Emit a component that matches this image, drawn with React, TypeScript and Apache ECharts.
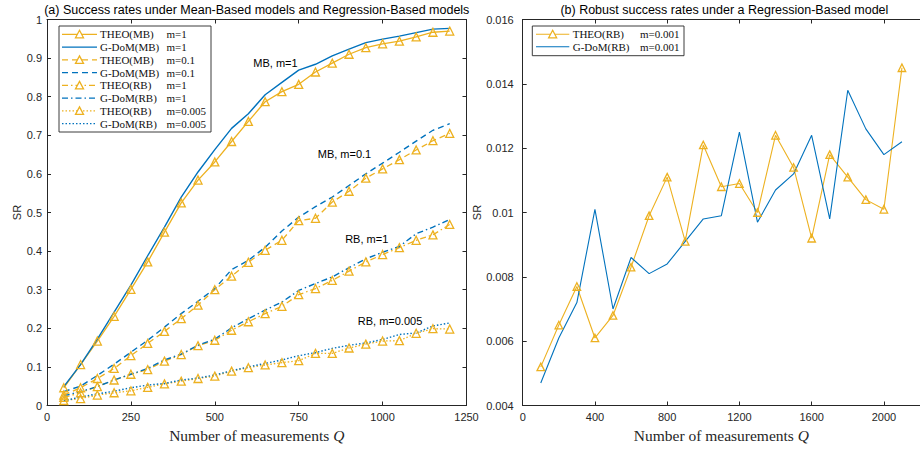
import React, { useEffect, useRef } from "react";
import * as echarts from "echarts";

// ---------- data ----------
const Q_LEFT = [50, 100, 150, 200, 250, 300, 350, 400, 450, 500, 550, 600, 650, 700, 750, 800, 850, 900, 950, 1000, 1050, 1100, 1150, 1200];
const THEO_MB_1 = [0.046, 0.106, 0.167, 0.231, 0.301, 0.372, 0.449, 0.525, 0.584, 0.631, 0.684, 0.736, 0.787, 0.813, 0.832, 0.864, 0.887, 0.91, 0.927, 0.937, 0.944, 0.955, 0.967, 0.97];
const GDOM_MB_1 = [0.049, 0.106, 0.172, 0.242, 0.312, 0.388, 0.462, 0.54, 0.605, 0.663, 0.718, 0.756, 0.805, 0.837, 0.869, 0.884, 0.906, 0.923, 0.94, 0.949, 0.957, 0.966, 0.975, 0.977];
const THEO_MB_01 = [0.027, 0.046, 0.07, 0.096, 0.129, 0.161, 0.192, 0.225, 0.26, 0.3, 0.335, 0.371, 0.402, 0.428, 0.479, 0.485, 0.527, 0.555, 0.589, 0.613, 0.637, 0.662, 0.686, 0.705];
const GDOM_MB_01 = [0.036, 0.05, 0.078, 0.107, 0.138, 0.169, 0.203, 0.238, 0.27, 0.303, 0.352, 0.376, 0.41, 0.452, 0.488, 0.515, 0.54, 0.57, 0.6, 0.628, 0.656, 0.685, 0.713, 0.73];
const THEO_RB_1 = [0.021, 0.033, 0.049, 0.066, 0.081, 0.093, 0.115, 0.132, 0.155, 0.169, 0.195, 0.217, 0.238, 0.257, 0.287, 0.303, 0.324, 0.348, 0.372, 0.391, 0.409, 0.428, 0.442, 0.469];
const GDOM_RB_1 = [0.025, 0.036, 0.049, 0.066, 0.081, 0.096, 0.118, 0.133, 0.156, 0.172, 0.201, 0.225, 0.247, 0.268, 0.298, 0.316, 0.333, 0.357, 0.38, 0.397, 0.412, 0.445, 0.462, 0.482];
const THEO_RB_0005 = [0.013, 0.018, 0.027, 0.033, 0.038, 0.047, 0.056, 0.063, 0.07, 0.076, 0.089, 0.098, 0.105, 0.111, 0.116, 0.135, 0.135, 0.149, 0.159, 0.167, 0.168, 0.187, 0.199, 0.198];
const GDOM_RB_0005 = [0.012, 0.022, 0.03, 0.037, 0.046, 0.053, 0.057, 0.066, 0.071, 0.079, 0.09, 0.1, 0.109, 0.118, 0.129, 0.137, 0.148, 0.156, 0.162, 0.171, 0.184, 0.188, 0.206, 0.214];

const Q_RIGHT = [100, 200, 300, 400, 500, 600, 700, 800, 900, 1000, 1100, 1200, 1300, 1400, 1500, 1600, 1700, 1800, 1900, 2000, 2100];
const THEO_RB_0001 = [0.0052, 0.0065, 0.0077, 0.0061, 0.0068, 0.0083, 0.0099, 0.0111, 0.0091, 0.0121, 0.0108, 0.0109, 0.01, 0.0124, 0.0114, 0.0092, 0.0118, 0.0111, 0.0104, 0.0101, 0.0145];
const GDOM_RB_0001 = [0.0047, 0.0061, 0.0072, 0.0101, 0.007, 0.0086, 0.0081, 0.0084, 0.0091, 0.0098, 0.0099, 0.0125, 0.0097, 0.0107, 0.0112, 0.0124, 0.0098, 0.0138, 0.0126, 0.0118, 0.0122];

const TITLE_LEFT = "(a) Success rates under Mean-Based models and Regression-Based models";
const TITLE_RIGHT = "(b) Robust success rates under a Regression-Based model";
const X_NAME = "Number of measurements ";
const Y_NAME = "SR";

const LEGEND_LEFT_NAMES = ["THEO(MB)", "G-DoM(MB)", "THEO(MB)", "G-DoM(MB)", "THEO(RB)", "G-DoM(RB)", "THEO(RB)", "G-DoM(RB)"];
const LEGEND_LEFT_M = ["m=1", "m=1", "m=0.1", "m=0.1", "m=1", "m=1", "m=0.005", "m=0.005"];
const LEGEND_RIGHT_NAMES = ["THEO(RB)", "G-DoM(RB)"];
const LEGEND_RIGHT_M = ["m=0.001", "m=0.001"];

const ANNOTATIONS = ["MB, m=1", "MB, m=0.1", "RB, m=1", "RB, m=0.005"];

// ---------- styles ----------
const ORANGE = "#EDB120";
const BLUE = "#0072BD";
const AX = "#262626";
const SANS = "'Liberation Sans', Arial, Helvetica, sans-serif";
const SERIF = "'Liberation Serif', 'Times New Roman', serif";

const DASH_SOLID: any = "solid";
const DASH_DASHED = [6, 4];
const DASH_DASHDOT = [6, 3, 1.5, 3];
const DASH_DOTTED = [1.5, 2];

const G0 = { left: 47, top: 19.5, width: 419.5, height: 386 };
const G1 = { left: 522.7, top: 19.5, width: 403.3, height: 386 };

function pairs(xs: number[], ys: number[]) {
  return xs.map((x, i) => [x, ys[i]]);
}

function theoSeries(name: string, xs: number[], ys: number[], dash: any, gi: number, lw: number, sz: number) {
  return {
    type: "line",
    name,
    xAxisIndex: gi === 0 ? 0 : 2,
    yAxisIndex: gi === 0 ? 0 : 2,
    data: pairs(xs, ys),
    symbol: "triangle",
    symbolSize: sz,
    showSymbol: true,
    silent: true,
    lineStyle: { color: ORANGE, width: lw, type: dash },
    itemStyle: { color: "rgba(255,255,255,0)", borderColor: ORANGE, borderWidth: 1.3 },
    emphasis: { disabled: true },
  };
}

function gdomSeries(name: string, xs: number[], ys: number[], dash: any, gi: number, lw: number) {
  return {
    type: "line",
    name,
    xAxisIndex: gi === 0 ? 0 : 2,
    yAxisIndex: gi === 0 ? 0 : 2,
    data: pairs(xs, ys),
    symbol: "none",
    showSymbol: false,
    silent: true,
    lineStyle: { color: BLUE, width: lw, type: dash },
    emphasis: { disabled: true },
  };
}

const plain = (v: number) => String(v);

function axisCommon() {
  return {
    type: "value",
    splitLine: { show: false },
    axisLine: { show: true, onZero: false, lineStyle: { color: AX, width: 1 } },
    axisTick: { show: true, inside: true, length: 4, lineStyle: { color: AX, width: 1 } },
    axisLabel: { color: AX, fontSize: 11, fontFamily: SANS, formatter: plain },
  };
}

function legendGraphic(
  x0: number, y0: number, w: number, h: number, rowY0: number, rowStep: number,
  lineX1: number, lineX2: number, textX: number, mX: number,
  names: string[], ms: string[], colors: string[], dashes: any[], theo: boolean[], lw: number
) {
  const children: any[] = [
    { type: "rect", shape: { x: x0, y: y0, width: w, height: h }, style: { fill: "#fff", stroke: AX, lineWidth: 0.9 } },
  ];
  names.forEach((nm, i) => {
    const y = rowY0 + i * rowStep;
    children.push({
      type: "line",
      shape: { x1: lineX1, y1: y, x2: lineX2, y2: y },
      style: { stroke: colors[i], lineWidth: lw, lineDash: dashes[i] === "solid" ? null : dashes[i] },
    });
    if (theo[i]) {
      const cx = (lineX1 + lineX2) / 2;
      children.push({
        type: "polygon",
        shape: { points: [[cx, y - 4], [cx + 4, y + 3.5], [cx - 4, y + 3.5]] },
        style: { fill: "#fff", stroke: ORANGE, lineWidth: 1.3 },
      });
    }
    children.push({
      type: "text", x: textX, y,
      style: { text: nm, fill: "#111", font: `11px ${SERIF}`, textVerticalAlign: "middle", textAlign: "left" },
    });
    children.push({
      type: "text", x: mX, y,
      style: { text: ms[i], fill: "#111", font: `11px ${SERIF}`, textVerticalAlign: "middle", textAlign: "left" },
    });
  });
  return { type: "group", z: 100, children };
}

export default function App() {
  const ref = useRef<HTMLDivElement>(null);
  useEffect(() => {
    if (!ref.current) return;
    const chart = echarts.init(ref.current, undefined, { renderer: "svg" });

    const xName = {
      name: `{n|${X_NAME}}{q|Q}`,
      nameLocation: "middle",
      nameGap: 17,
      nameTextStyle: {
        rich: {
          n: { fontFamily: SERIF, fontSize: 15.5, color: AX },
          q: { fontFamily: SERIF, fontSize: 15.5, fontStyle: "italic", color: AX },
        },
      },
    };

    const option: any = {
      animation: false,
      grid: [
        { ...G0, containLabel: false },
        { ...G1, containLabel: false },
      ],
      xAxis: [
        { ...axisCommon(), gridIndex: 0, position: "bottom", min: 0, max: 1250, interval: 250, ...xName,
          axisLabel: { ...axisCommon().axisLabel, margin: 6 } },
        { ...axisCommon(), gridIndex: 0, position: "top", min: 0, max: 1250, interval: 250,
          axisLabel: { show: false } },
        { ...axisCommon(), gridIndex: 1, position: "bottom", min: 0, max: 2200, interval: 400, ...xName,
          axisLabel: { ...axisCommon().axisLabel, margin: 6, showMaxLabel: false } },
        { ...axisCommon(), gridIndex: 1, position: "top", min: 0, max: 2200, interval: 400,
          axisLabel: { show: false } },
      ],
      yAxis: [
        { ...axisCommon(), gridIndex: 0, position: "left", min: 0, max: 1, interval: 0.1,
          name: Y_NAME, nameLocation: "middle", nameGap: 20, nameRotate: 90,
          nameTextStyle: { fontFamily: SANS, fontSize: 11, color: AX },
          axisLabel: { ...axisCommon().axisLabel, margin: 5 } },
        { ...axisCommon(), gridIndex: 0, position: "right", min: 0, max: 1, interval: 0.1,
          axisLabel: { show: false } },
        { ...axisCommon(), gridIndex: 1, position: "left", min: 0.004, max: 0.016, interval: 0.002,
          name: Y_NAME, nameLocation: "middle", nameGap: 32, nameRotate: 90,
          nameTextStyle: { fontFamily: SANS, fontSize: 11, color: AX },
          axisLabel: { ...axisCommon().axisLabel, margin: 9 } },
      ],
      series: [
        theoSeries("THEO(MB) m=1", Q_LEFT, THEO_MB_1, DASH_SOLID, 0, 1.3, 8),
        gdomSeries("G-DoM(MB) m=1", Q_LEFT, GDOM_MB_1, DASH_SOLID, 0, 1.4),
        theoSeries("THEO(MB) m=0.1", Q_LEFT, THEO_MB_01, DASH_DASHED, 0, 1.3, 8),
        gdomSeries("G-DoM(MB) m=0.1", Q_LEFT, GDOM_MB_01, DASH_DASHED, 0, 1.4),
        theoSeries("THEO(RB) m=1", Q_LEFT, THEO_RB_1, DASH_DASHDOT, 0, 1.3, 8),
        gdomSeries("G-DoM(RB) m=1", Q_LEFT, GDOM_RB_1, DASH_DASHDOT, 0, 1.4),
        theoSeries("THEO(RB) m=0.005", Q_LEFT, THEO_RB_0005, DASH_DOTTED, 0, 1.3, 8),
        gdomSeries("G-DoM(RB) m=0.005", Q_LEFT, GDOM_RB_0005, DASH_DOTTED, 0, 1.4),
        theoSeries("THEO(RB) m=0.001", Q_RIGHT, THEO_RB_0001, DASH_SOLID, 1, 1.1, 7.5),
        gdomSeries("G-DoM(RB) m=0.001", Q_RIGHT, GDOM_RB_0001, DASH_SOLID, 1, 1.1),
      ],
      graphic: [
        { type: "text", x: G0.left + G0.width / 2, y: 10,
          style: { text: TITLE_LEFT, fill: "#000", font: `12.5px ${SANS}`, textAlign: "center", textVerticalAlign: "middle" } },
        { type: "text", x: G1.left + G1.width / 2, y: 10,
          style: { text: TITLE_RIGHT, fill: "#000", font: `12.5px ${SANS}`, textAlign: "center", textVerticalAlign: "middle" } },
        { type: "text", x: 275.5, y: 62.7,
          style: { text: ANNOTATIONS[0], fill: "#000", font: `11px ${SANS}`, textAlign: "center", textVerticalAlign: "middle" } },
        { type: "text", x: 344.5, y: 154.3,
          style: { text: ANNOTATIONS[1], fill: "#000", font: `11px ${SANS}`, textAlign: "center", textVerticalAlign: "middle" } },
        { type: "text", x: 366.7, y: 239.3,
          style: { text: ANNOTATIONS[2], fill: "#000", font: `11px ${SANS}`, textAlign: "center", textVerticalAlign: "middle" } },
        { type: "text", x: 390, y: 321,
          style: { text: ANNOTATIONS[3], fill: "#000", font: `11px ${SANS}`, textAlign: "center", textVerticalAlign: "middle" } },
        legendGraphic(
          59, 26, 152, 106, 34.3, 12.77, 62, 97, 100, 166.5,
          LEGEND_LEFT_NAMES, LEGEND_LEFT_M,
          [ORANGE, BLUE, ORANGE, BLUE, ORANGE, BLUE, ORANGE, BLUE],
          [DASH_SOLID, DASH_SOLID, DASH_DASHED, DASH_DASHED, DASH_DASHDOT, DASH_DASHDOT, DASH_DOTTED, DASH_DOTTED],
          [true, false, true, false, true, false, true, false], 1.3
        ),
        legendGraphic(
          532.3, 26, 151.7, 29.7, 34.3, 12.4, 536, 569.3, 572.7, 640,
          LEGEND_RIGHT_NAMES, LEGEND_RIGHT_M,
          [ORANGE, BLUE], [DASH_SOLID, DASH_SOLID], [true, false], 1.1
        ),
      ],
    };
    chart.setOption(option);
    return () => chart.dispose();
  }, []);

  return (
    <div
      ref={ref}
      style={{ position: "absolute", left: 0, top: 0, width: 920, height: 449, overflow: "hidden", background: "#fff" }}
    />
  );
}
